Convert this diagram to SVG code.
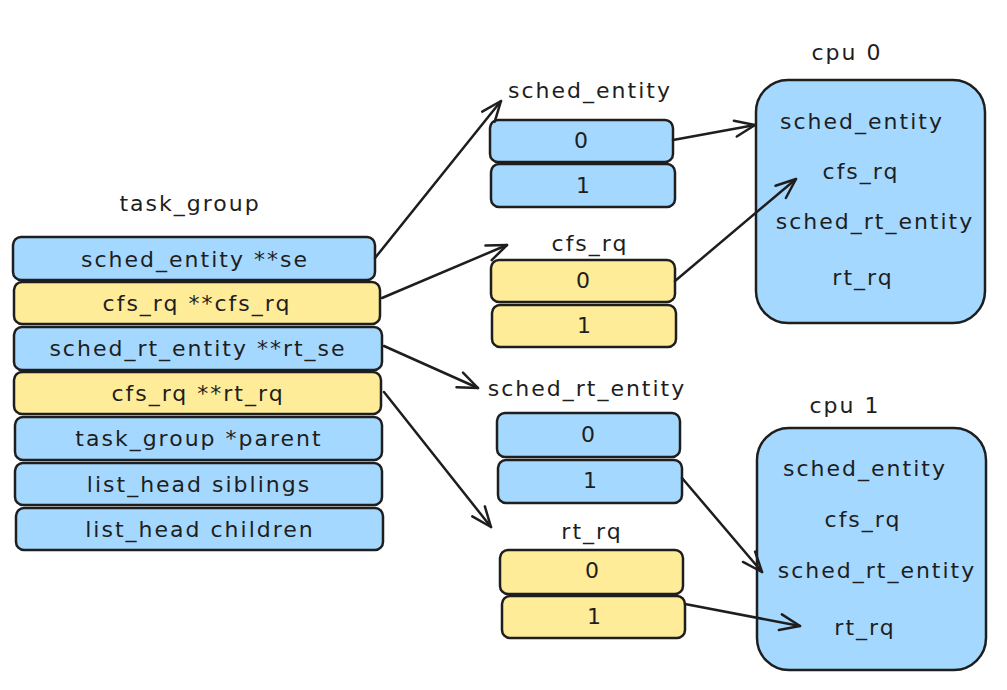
<svg xmlns="http://www.w3.org/2000/svg" width="1007" height="690" viewBox="0 0 1007 690">
<style>
.b{fill:#a5d8ff;stroke:#1e1e1e;stroke-width:2.5}
.y{fill:#ffec99;stroke:#1e1e1e;stroke-width:2.5}
text{font-family:"DejaVu Sans",sans-serif;font-size:22px;fill:#1e1e1e;text-anchor:middle;dominant-baseline:central;letter-spacing:2px}
.c{fill:none;stroke:#1e1e1e;stroke-width:2.5;stroke-linecap:round}
</style>
<defs>
<marker id="ah" viewBox="-22 -12 26 24" markerWidth="26" markerHeight="24" refX="0" refY="0" orient="auto" markerUnits="userSpaceOnUse">
<path d="M-20,-8 L0,0 L-20,8" fill="none" stroke="#1e1e1e" stroke-width="2.5" stroke-linecap="round" stroke-linejoin="round"/>
</marker>
</defs>
<rect width="1007" height="690" fill="#ffffff"/>

<g id="task_group">
<text x="190" y="203">task_group</text>
<g id="tg-se"><rect class="b" x="13" y="237" width="362" height="43" rx="8"/><text x="195" y="259">sched_entity **se</text></g>
<g id="tg-cfs_rq"><rect class="y" x="14" y="282" width="366" height="42" rx="8"/><text x="197" y="303">cfs_rq **cfs_rq</text></g>
<g id="tg-rt_se"><rect class="b" x="14" y="327" width="368" height="43" rx="8"/><text x="198" y="348">sched_rt_entity **rt_se</text></g>
<g id="tg-rt_rq"><rect class="y" x="14" y="372" width="367" height="42" rx="8"/><text x="198" y="393">cfs_rq **rt_rq</text></g>
<g id="tg-parent"><rect class="b" x="15" y="417" width="367" height="43" rx="8"/><text x="199" y="438">task_group *parent</text></g>
<g id="tg-siblings"><rect class="b" x="15" y="463" width="367" height="42" rx="8"/><text x="199" y="484">list_head siblings</text></g>
<g id="tg-children"><rect class="b" x="16" y="508" width="367" height="42" rx="8"/><text x="200" y="529">list_head children</text></g>
</g>

<g id="se-array">
<text x="590" y="90">sched_entity</text>
<g id="se-0"><rect class="b" x="490" y="120" width="183" height="42" rx="8"/><text x="582" y="140">0</text></g>
<g id="se-1"><rect class="b" x="491" y="164" width="184" height="43" rx="8"/><text x="584" y="185">1</text></g>
</g>

<g id="cfs-array">
<text x="590" y="243">cfs_rq</text>
<g id="cfs-0"><rect class="y" x="491" y="260" width="184" height="42" rx="8"/><text x="584" y="280">0</text></g>
<g id="cfs-1"><rect class="y" x="492" y="305" width="184" height="42" rx="8"/><text x="585" y="325">1</text></g>
</g>

<g id="rtse-array">
<text x="587" y="388">sched_rt_entity</text>
<g id="rtse-0"><rect class="b" x="497" y="413" width="183" height="44" rx="8"/><text x="589" y="434">0</text></g>
<g id="rtse-1"><rect class="b" x="498" y="460" width="184" height="43" rx="8"/><text x="591" y="480">1</text></g>
</g>

<g id="rtrq-array">
<text x="592" y="531">rt_rq</text>
<g id="rtrq-0"><rect class="y" x="500" y="550" width="183" height="44" rx="8"/><text x="593" y="570">0</text></g>
<g id="rtrq-1"><rect class="y" x="502" y="596" width="183" height="42" rx="8"/><text x="595" y="616">1</text></g>
</g>

<g id="cpu0">
<text x="847" y="52">cpu 0</text>
<rect class="b" x="756" y="80" width="229" height="243" rx="32"/>
<text x="862" y="121">sched_entity</text>
<text x="861" y="171">cfs_rq</text>
<text x="875" y="221">sched_rt_entity</text>
<text x="863" y="277">rt_rq</text>
</g>

<g id="cpu1">
<text x="845" y="405">cpu 1</text>
<rect class="b" x="757" y="428" width="229" height="242" rx="32"/>
<text x="865" y="468">sched_entity</text>
<text x="863" y="519">cfs_rq</text>
<text x="877" y="570">sched_rt_entity</text>
<text x="865" y="627">rt_rq</text>
</g>

<g id="connectors">
<path class="c" d="M375,258 L501,101" marker-end="url(#ah)"/>
<path class="c" d="M382,298 L507,245" marker-end="url(#ah)"/>
<path class="c" d="M384,346 L478,388" marker-end="url(#ah)"/>
<path class="c" d="M384,392 L491,527" marker-end="url(#ah)"/>
<path class="c" d="M673,140 L755,125" marker-end="url(#ah)"/>
<path class="c" d="M675,281 L796,179" marker-end="url(#ah)"/>
<path class="c" d="M682,478 L762,572" marker-end="url(#ah)"/>
<path class="c" d="M685,604 L800,626" marker-end="url(#ah)"/>
</g>
</svg>
